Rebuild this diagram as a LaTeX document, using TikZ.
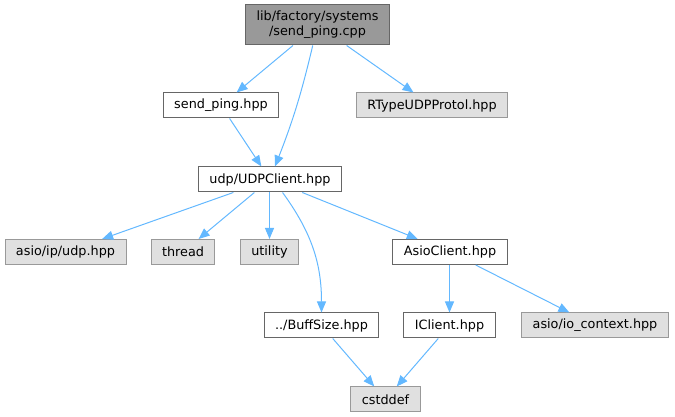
\documentclass[tikz,border=0pt]{standalone}
\usepackage{fontspec}
\setmainfont{DejaVu Sans}
\usetikzlibrary{arrows.meta}
\definecolor{depblue}{HTML}{63B8FF}
\definecolor{boxline}{HTML}{666666}
\definecolor{extline}{HTML}{999999}
\definecolor{extfill}{HTML}{E0E0E0}
\begin{document}
\begin{tikzpicture}[
			x=1pt,y=1pt,
			file/.style={draw=boxline,fill=white,line width=1pt,inner xsep=11pt,
				inner ysep=2pt,minimum height=25pt,font=\fontsize{12.8}{15}\selectfont},
			ext/.style={file,draw=extline,fill=extfill},
			srcfile/.style={file,fill=extline,align=center,minimum height=40pt},
			dep/.style={-{Triangle[length=11pt,width=9pt]},draw=depblue,line width=1pt}]
			\useasboundingbox (0,0) rectangle (675,417);
			\node[srcfile] (src) at (317.5,392) {lib/factory/systems\\/send\_ping.cpp};
			\node[file] (sping) at (221,311.5) {send\_ping.hpp};
			\node[ext] (rtype) at (432,311.5) {RTypeUDPProtol.hpp};
			\node[file] (udpc) at (270,237.5) {udp/UDPClient.hpp};
			\node[ext] (asioudp) at (65.5,165) {asio/ip/udp.hpp};
			\node[ext] (thread) at (183,165) {thread};
			\node[ext] (utility) at (269.5,165) {utility};
			\node[file] (asiocl) at (450,165) {AsioClient.hpp};
			\node[file] (buff) at (321.5,91.5) {../BuffSize.hpp};
			\node[file] (icl) at (449.5,91.5) {IClient.hpp};
			\node[ext] (ioctx) at (595,91.5) {asio/io\_context.hpp};
			\node[ext] (cstd) at (385.5,17.5) {cstddef};
			\draw[dep] (src) -- (sping);
			\draw[dep] (src) to[bend left=4] (udpc);
			\draw[dep] (src) -- (rtype);
			\draw[dep] (sping) -- (udpc);
			\draw[dep] (udpc) -- (asioudp);
			\draw[dep] (udpc) -- (thread);
			\draw[dep] (udpc.south -| utility) -- (utility);
			\draw[dep] (udpc.-46) to[out=-54,in=90] (buff.north);
			\draw[dep] (udpc) -- (asiocl);
			\draw[dep] (asiocl.south -| icl) -- (icl);
			\draw[dep] (asiocl) -- (ioctx);
			\draw[dep] (buff) -- (cstd);
			\draw[dep] (icl) -- (cstd);
		\end{tikzpicture}
\end{document}
